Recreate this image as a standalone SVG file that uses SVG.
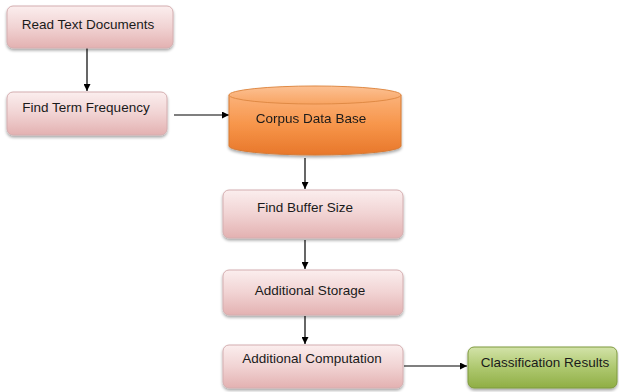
<svg xmlns="http://www.w3.org/2000/svg" width="619" height="392" viewBox="0 0 619 392">
<defs>
<linearGradient id="pink" x1="0" y1="0" x2="0" y2="1">
<stop offset="0" stop-color="#fbeeee"/>
<stop offset="0.5" stop-color="#f1d3d3"/>
<stop offset="1" stop-color="#e3b1b1"/>
</linearGradient>
<linearGradient id="orange" x1="0" y1="0" x2="0" y2="1">
<stop offset="0" stop-color="#fbb27a"/>
<stop offset="0.5" stop-color="#f7954a"/>
<stop offset="1" stop-color="#e8772a"/>
</linearGradient>
<linearGradient id="orangeTop" x1="0" y1="0" x2="0" y2="1">
<stop offset="0" stop-color="#fcc194"/>
<stop offset="1" stop-color="#f8a462"/>
</linearGradient>
<linearGradient id="green" x1="0" y1="0" x2="0" y2="1">
<stop offset="0" stop-color="#d3e3a9"/>
<stop offset="0.5" stop-color="#aec86f"/>
<stop offset="1" stop-color="#8fae45"/>
</linearGradient>
<filter id="sh" x="-10%" y="-20%" width="125%" height="150%">
<feGaussianBlur in="SourceAlpha" stdDeviation="1.5"/>
<feOffset dx="0" dy="2" result="b"/>
<feComponentTransfer><feFuncA type="linear" slope="0.35"/></feComponentTransfer>
<feMerge><feMergeNode/><feMergeNode in="SourceGraphic"/></feMerge>
</filter>
<marker id="arr" viewBox="0 0 10 10" refX="10" refY="5" markerWidth="7" markerHeight="7" orient="auto" markerUnits="userSpaceOnUse">
<path d="M0,0 L10,5 L0,10 z" fill="#000"/>
</marker>
</defs>
<style>
.box{fill:url(#pink);stroke:#d4aeb0;stroke-width:1;filter:url(#sh)}
.gbox{fill:url(#green);stroke:#7f9a3e;stroke-width:1;filter:url(#sh)}
.lbl{font-family:"Liberation Sans",Arial,sans-serif;font-size:13.5px;fill:#1a1a1a;text-anchor:middle}
.con{stroke:#000;stroke-width:1.2;fill:none;marker-end:url(#arr)}
</style>
<rect width="619" height="392" fill="#fff"/>
<g id="connectors">
<line class="con" x1="87" y1="48" x2="87" y2="91"/>
<line class="con" x1="174" y1="115" x2="229" y2="115"/>
<line class="con" x1="305" y1="158" x2="305" y2="189"/>
<line class="con" x1="305" y1="240" x2="305" y2="269"/>
<line class="con" x1="305" y1="316" x2="305" y2="344"/>
<line class="con" x1="404" y1="366" x2="467" y2="366"/>
</g>
<g id="read">
<rect class="box" x="7" y="6" width="166" height="42" rx="6"/>
<text class="lbl" x="88" y="29">Read Text Documents</text>
</g>
<g id="term">
<rect class="box" x="7" y="92" width="160" height="43" rx="6"/>
<text class="lbl" x="86" y="112">Find Term Frequency</text>
</g>
<g id="corpus" filter="url(#sh)">
<path d="M229,95 L229,146 A86,9 0 0 0 401,146 L401,95 Z" fill="url(#orange)" stroke="#d67a35" stroke-width="1"/>
<ellipse cx="315" cy="95" rx="86" ry="9" fill="url(#orangeTop)" stroke="#e08a45" stroke-width="1"/>
<text class="lbl" x="311" y="123">Corpus Data Base</text>
</g>
<g id="buffer">
<rect class="box" x="223" y="190" width="180" height="48" rx="6"/>
<text class="lbl" x="305" y="212">Find Buffer Size</text>
</g>
<g id="storage">
<rect class="box" x="223" y="270" width="180" height="45" rx="6"/>
<text class="lbl" x="310" y="295">Additional Storage</text>
</g>
<g id="computation">
<rect class="box" x="223" y="345" width="180" height="43" rx="6"/>
<text class="lbl" x="312" y="363">Additional Computation</text>
</g>
<g id="classification">
<rect class="gbox" x="468" y="347" width="149" height="41" rx="6"/>
<text class="lbl" x="545" y="367">Classification Results</text>
</g>
</svg>
